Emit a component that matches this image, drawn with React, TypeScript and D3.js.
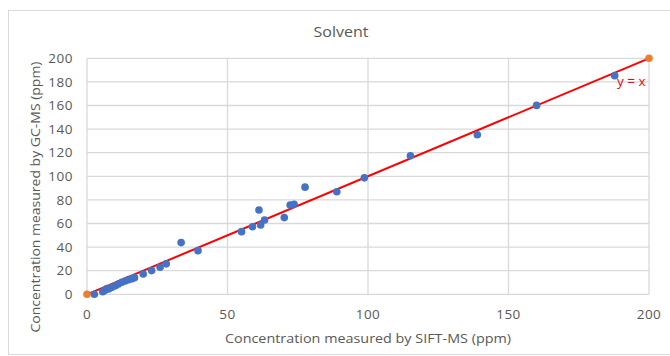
import * as d3 from "d3";
import React, { useEffect, useRef } from "react";

// SIFT-MS (x) vs GC-MS (y), ppm
const siftValues = [
  2.6, 5.6, 6.4, 7.1, 7.7, 8.9, 10.1, 11.2, 12.4, 13.6, 14.8, 16.0, 16.9,
  20.0, 23.0, 26.0, 28.2, 33.5, 39.5, 55.0, 58.9, 61.2, 61.8, 63.2, 70.2,
  72.3, 73.7, 77.6, 88.9, 98.7, 115.1, 138.9, 160.0, 187.8,
];
const gcmsValues = [
  0.0, 2.1, 3.4, 4.8, 4.5, 5.9, 7.3, 8.7, 10.2, 11.3, 12.4, 13.2, 14.1,
  17.2, 20.1, 22.9, 25.8, 43.8, 37.0, 53.1, 57.3, 71.5, 58.8, 63.0, 65.0,
  75.6, 76.3, 90.8, 86.9, 98.7, 117.4, 135.2, 160.1, 185.3,
];
// end points of the y = x reference line
const refLine = [
  [0, 0],
  [200, 200],
];
const xTicks = [0, 50, 100, 150, 200];
const yTicks = [0, 20, 40, 60, 80, 100, 120, 140, 160, 180, 200];

const FONT = "'Open Sans', 'Noto Sans', sans-serif";
const TEXT = "#595959";
const GRID = "#d9d9d9";

const App: React.FC = () => {
  const ref = useRef<SVGSVGElement | null>(null);

  useEffect(() => {
    const W = 670;
    const H = 356;
    const plot = { left: 87, right: 649, top: 58.3, bottom: 294.3 };

    const svg = d3.select(ref.current).attr("width", W).attr("height", H);
    svg.html("");

    const x = d3.scaleLinear().domain([0, 200]).range([plot.left, plot.right]);
    const y = d3.scaleLinear().domain([0, 200]).range([plot.bottom, plot.top]);

    // chart border
    svg
      .append("rect")
      .attr("x", 8.5)
      .attr("y", 10.5)
      .attr("width", W)
      .attr("height", 344)
      .attr("fill", "#fff")
      .attr("stroke", "#d9d9d9");

    // title
    svg
      .append("text")
      .attr("x", 341)
      .attr("y", 37)
      .attr("text-anchor", "middle")
      .attr("fill", TEXT)
      .style("font-family", FONT)
      .style("font-size", "15px")
      .attr("textLength", 55)
      .attr("lengthAdjust", "spacingAndGlyphs")
      .text("Solvent");

    // gridlines
    svg
      .append("g")
      .selectAll("line")
      .data(yTicks)
      .join("line")
      .attr("x1", plot.left)
      .attr("x2", plot.right)
      .attr("y1", (d) => y(d))
      .attr("y2", (d) => y(d))
      .attr("stroke", GRID)
      .attr("stroke-width", 1.3);

    svg
      .append("g")
      .selectAll("line")
      .data(xTicks)
      .join("line")
      .attr("y1", plot.top)
      .attr("y2", plot.bottom)
      .attr("x1", (d) => x(d))
      .attr("x2", (d) => x(d))
      .attr("stroke", GRID)
      .attr("stroke-width", 1.3);

    // tick labels
    svg
      .append("g")
      .selectAll("text")
      .data(yTicks)
      .join("text")
      .attr("x", 73)
      .attr("y", (d) => y(d))
      .attr("dy", "0.35em")
      .attr("text-anchor", "end")
      .attr("fill", TEXT)
      .style("font-family", FONT)
      .style("font-size", "13.5px")
      .style("letter-spacing", "0.5px")
      .text((d) => d);

    svg
      .append("g")
      .selectAll("text")
      .data(xTicks)
      .join("text")
      .attr("x", (d) => x(d))
      .attr("y", 319)
      .attr("text-anchor", "middle")
      .attr("fill", TEXT)
      .style("font-family", FONT)
      .style("font-size", "13.5px")
      .style("letter-spacing", "0.5px")
      .text((d) => d);

    // axis titles
    svg
      .append("text")
      .attr("x", (plot.left + plot.right) / 2)
      .attr("y", 343)
      .attr("text-anchor", "middle")
      .attr("fill", TEXT)
      .style("font-family", FONT)
      .style("font-size", "13.5px")
      .attr("textLength", 286)
      .attr("lengthAdjust", "spacingAndGlyphs")
      .text("Concentration measured by SIFT-MS (ppm)");

    svg
      .append("text")
      .attr("transform", "translate(40,197) rotate(-90)")
      .attr("text-anchor", "middle")
      .attr("fill", TEXT)
      .style("font-family", FONT)
      .style("font-size", "13.5px")
      .attr("textLength", 271)
      .attr("lengthAdjust", "spacingAndGlyphs")
      .text("Concentration measured by GC-MS (ppm)");

    // y = x line
    svg
      .append("path")
      .datum(refLine)
      .attr("fill", "none")
      .attr("stroke", "#ff0000")
      .attr("stroke-width", 2)
      .attr(
        "d",
        d3
          .line<number[]>()
          .x((d) => x(d[0]))
          .y((d) => y(d[1]))
      );

    // measured points
    const pts = siftValues.map((v, i) => [v, gcmsValues[i]]);
    svg
      .append("g")
      .selectAll("circle")
      .data(pts)
      .join("circle")
      .attr("cx", (d) => x(d[0]))
      .attr("cy", (d) => y(d[1]))
      .attr("r", 3.8)
      .attr("fill", "#4472c4");

    // end markers of the reference line
    svg
      .append("g")
      .selectAll("circle")
      .data(refLine)
      .join("circle")
      .attr("cx", (d) => x(d[0]))
      .attr("cy", (d) => y(d[1]))
      .attr("r", 3.8)
      .attr("fill", "#ed7d31");

    svg
      .append("text")
      .attr("x", 617)
      .attr("y", 86)
      .attr("fill", "#ff0000")
      .style("font-family", FONT)
      .style("font-size", "13.5px")
      .text("y = x");
  }, []);

  return (
    <svg
      ref={ref}
      style={{ position: "absolute", left: 0, top: 0, display: "block" }}
    ></svg>
  );
};

export default App;
